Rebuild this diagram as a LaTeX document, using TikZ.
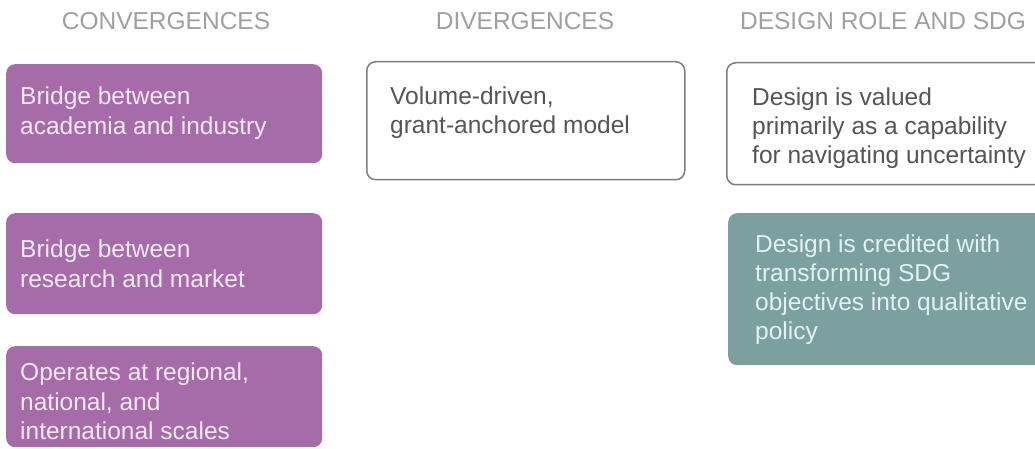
\documentclass[tikz,border=0pt]{standalone}
\usepackage{fontspec}
\setmainfont{Liberation Sans}
\definecolor{purp}{HTML}{A56CA9}
\definecolor{purptext}{HTML}{F6E9F6}
\definecolor{tealbox}{HTML}{7C9FA0}
\definecolor{tealtext}{HTML}{E2F2F0}
\definecolor{headgray}{HTML}{A0A0A0}
\definecolor{bodygray}{HTML}{555555}
\definecolor{edgegray}{HTML}{7E7E7E}
\begin{document}
\begin{tikzpicture}[x=1pt,y=-1pt,
  head/.style={font=\fontsize{24.5}{30}\selectfont, text=headgray, anchor=base, inner sep=0},
  boxbase/.style={anchor=north west, inner sep=0, rounded corners=9pt},
  convbox/.style={boxbase, fill=purp, minimum width=316pt},
  whitebox/.style={boxbase, fill=white, draw=edgegray, line width=1.5pt},
  tealbx/.style={boxbase, fill=tealbox},
  convtext/.style={anchor=north west, inner sep=0, align=left, text=purptext, font=\fontsize{24.5}{29.5}\selectfont},
  graytext/.style={anchor=north west, inner sep=0, align=left, text=bodygray, font=\fontsize{24.5}{29}\selectfont},
  tealtxt/.style={anchor=north west, inner sep=0, align=left, text=tealtext, font=\fontsize{24.5}{29}\selectfont}
]
\useasboundingbox (0,0) rectangle (1035,449);
\clip (0,0) rectangle (1035,449);
\fill[white] (0,0) rectangle (1035,449);

% headers
\node[head] (h1) at (166,30) {CONVERGENCES};
\node[head] (h2) at (525,30) {DIVERGENCES};
\node[head] (h3) at (883,30) {DESIGN ROLE AND SDG};

% convergences
\node[convbox, minimum height=99pt] (c1) at (6,64) {};
\node[convbox, minimum height=101pt] (c2) at (6,213) {};
\node[convbox, minimum height=101pt] (c3) at (6,346) {};
\node[convtext] (c1t) at (20,87) {Bridge between\\academia and industry};
\node[convtext] (c2t) at (20,240) {Bridge between\\research and market};
\node[convtext] (c3t) at (20,363) {Operates at regional,\\national, and\\international scales};

% divergences
\node[whitebox, minimum width=318pt, minimum height=118pt] (d1) at (366,61) {};
\node[graytext] (d1t) at (390,87) {Volume-driven,\\grant-anchored model};

% design role and SDG
\node[whitebox, minimum width=322pt, minimum height=122pt] (r1) at (726,62) {};
\node[graytext] (r1t) at (752,88) {Design is valued\\primarily as a capability\\for navigating uncertainty};
\node[tealbx, minimum width=322pt, minimum height=152pt] (r2) at (728,213) {};
\node[tealtxt] (r2t) at (755,235) {Design is credited with\\transforming SDG\\objectives into qualitative\\policy};
\end{tikzpicture}
\end{document}
